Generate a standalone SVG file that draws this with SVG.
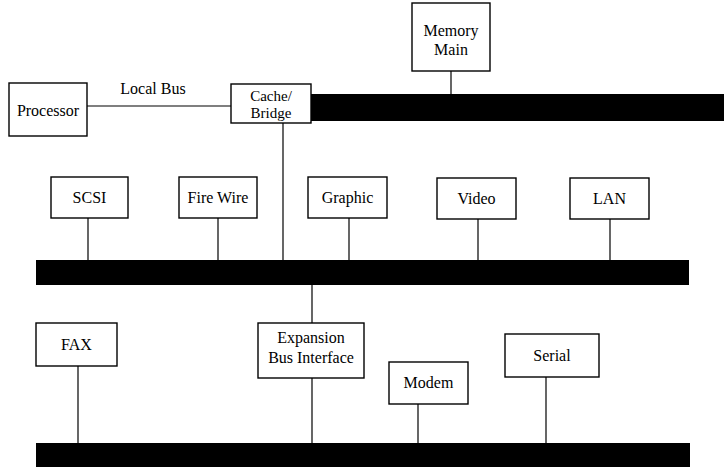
<svg xmlns="http://www.w3.org/2000/svg" width="724" height="468" viewBox="0 0 724 468">
<style>
.box{fill:#fff;stroke:#000;stroke-width:1.4}
.bus{fill:#000}
.ln{stroke:#000;stroke-width:1.2;fill:none}
text{font-family:"Liberation Serif","Times New Roman",serif;font-size:16px;fill:#000;text-anchor:middle}
.sm{font-size:15px}
</style>
<rect width="724" height="468" fill="#fff"/>
<g id="buses">
<rect id="system-bus" class="bus" x="311" y="94" width="413" height="27"/>
<rect id="pci-bus" class="bus" x="36" y="260" width="653" height="25"/>
<rect id="expansion-bus" class="bus" x="36" y="443" width="654" height="24"/>
</g>
<g id="connectors">
<line class="ln" x1="87" y1="106" x2="231" y2="106"/>
<line class="ln" x1="451" y1="71" x2="451" y2="94"/>
<line class="ln" x1="283" y1="123" x2="283" y2="260"/>
<line class="ln" x1="88" y1="218" x2="88" y2="260"/>
<line class="ln" x1="218" y1="218" x2="218" y2="260"/>
<line class="ln" x1="349" y1="218" x2="349" y2="260"/>
<line class="ln" x1="478" y1="219" x2="478" y2="260"/>
<line class="ln" x1="610" y1="219" x2="610" y2="260"/>
<line class="ln" x1="312" y1="285" x2="312" y2="323"/>
<line class="ln" x1="312" y1="378" x2="312" y2="443"/>
<line class="ln" x1="78" y1="366" x2="78" y2="443"/>
<line class="ln" x1="418" y1="404" x2="418" y2="443"/>
<line class="ln" x1="546" y1="377" x2="546" y2="443"/>
<text x="153" y="94">Local Bus</text>
</g>
<g id="processor"><rect class="box" x="9" y="83" width="78" height="53"/><text x="48" y="116">Processor</text></g>
<g id="cache-bridge"><rect class="box" x="231" y="84" width="80" height="39"/><text class="sm" x="271" y="101">Cache/</text><text class="sm" x="271" y="117.5">Bridge</text></g>
<g id="main-memory"><rect class="box" x="412" y="3" width="78" height="68"/><text x="451" y="36">Memory</text><text x="451" y="55">Main</text></g>
<g id="scsi"><rect class="box" x="51" y="177" width="77" height="41"/><text x="89.5" y="203">SCSI</text></g>
<g id="firewire"><rect class="box" x="179" y="177" width="78" height="41"/><text x="218" y="203">Fire Wire</text></g>
<g id="graphic"><rect class="box" x="308" y="177" width="79" height="41"/><text x="347.5" y="203">Graphic</text></g>
<g id="video"><rect class="box" x="437" y="178" width="79" height="41"/><text x="476.5" y="204">Video</text></g>
<g id="lan"><rect class="box" x="570" y="178" width="79" height="41"/><text x="609.5" y="204">LAN</text></g>
<g id="expansion"><rect class="box" x="258" y="323" width="106" height="55"/><text x="311" y="343">Expansion</text><text x="311" y="363">Bus Interface</text></g>
<g id="fax"><rect class="box" x="36" y="323" width="81" height="43"/><text x="76.5" y="350">FAX</text></g>
<g id="modem"><rect class="box" x="389" y="362" width="79" height="42"/><text x="428.5" y="388">Modem</text></g>
<g id="serial"><rect class="box" x="505" y="334" width="94" height="43"/><text x="552" y="361">Serial</text></g>
</svg>
